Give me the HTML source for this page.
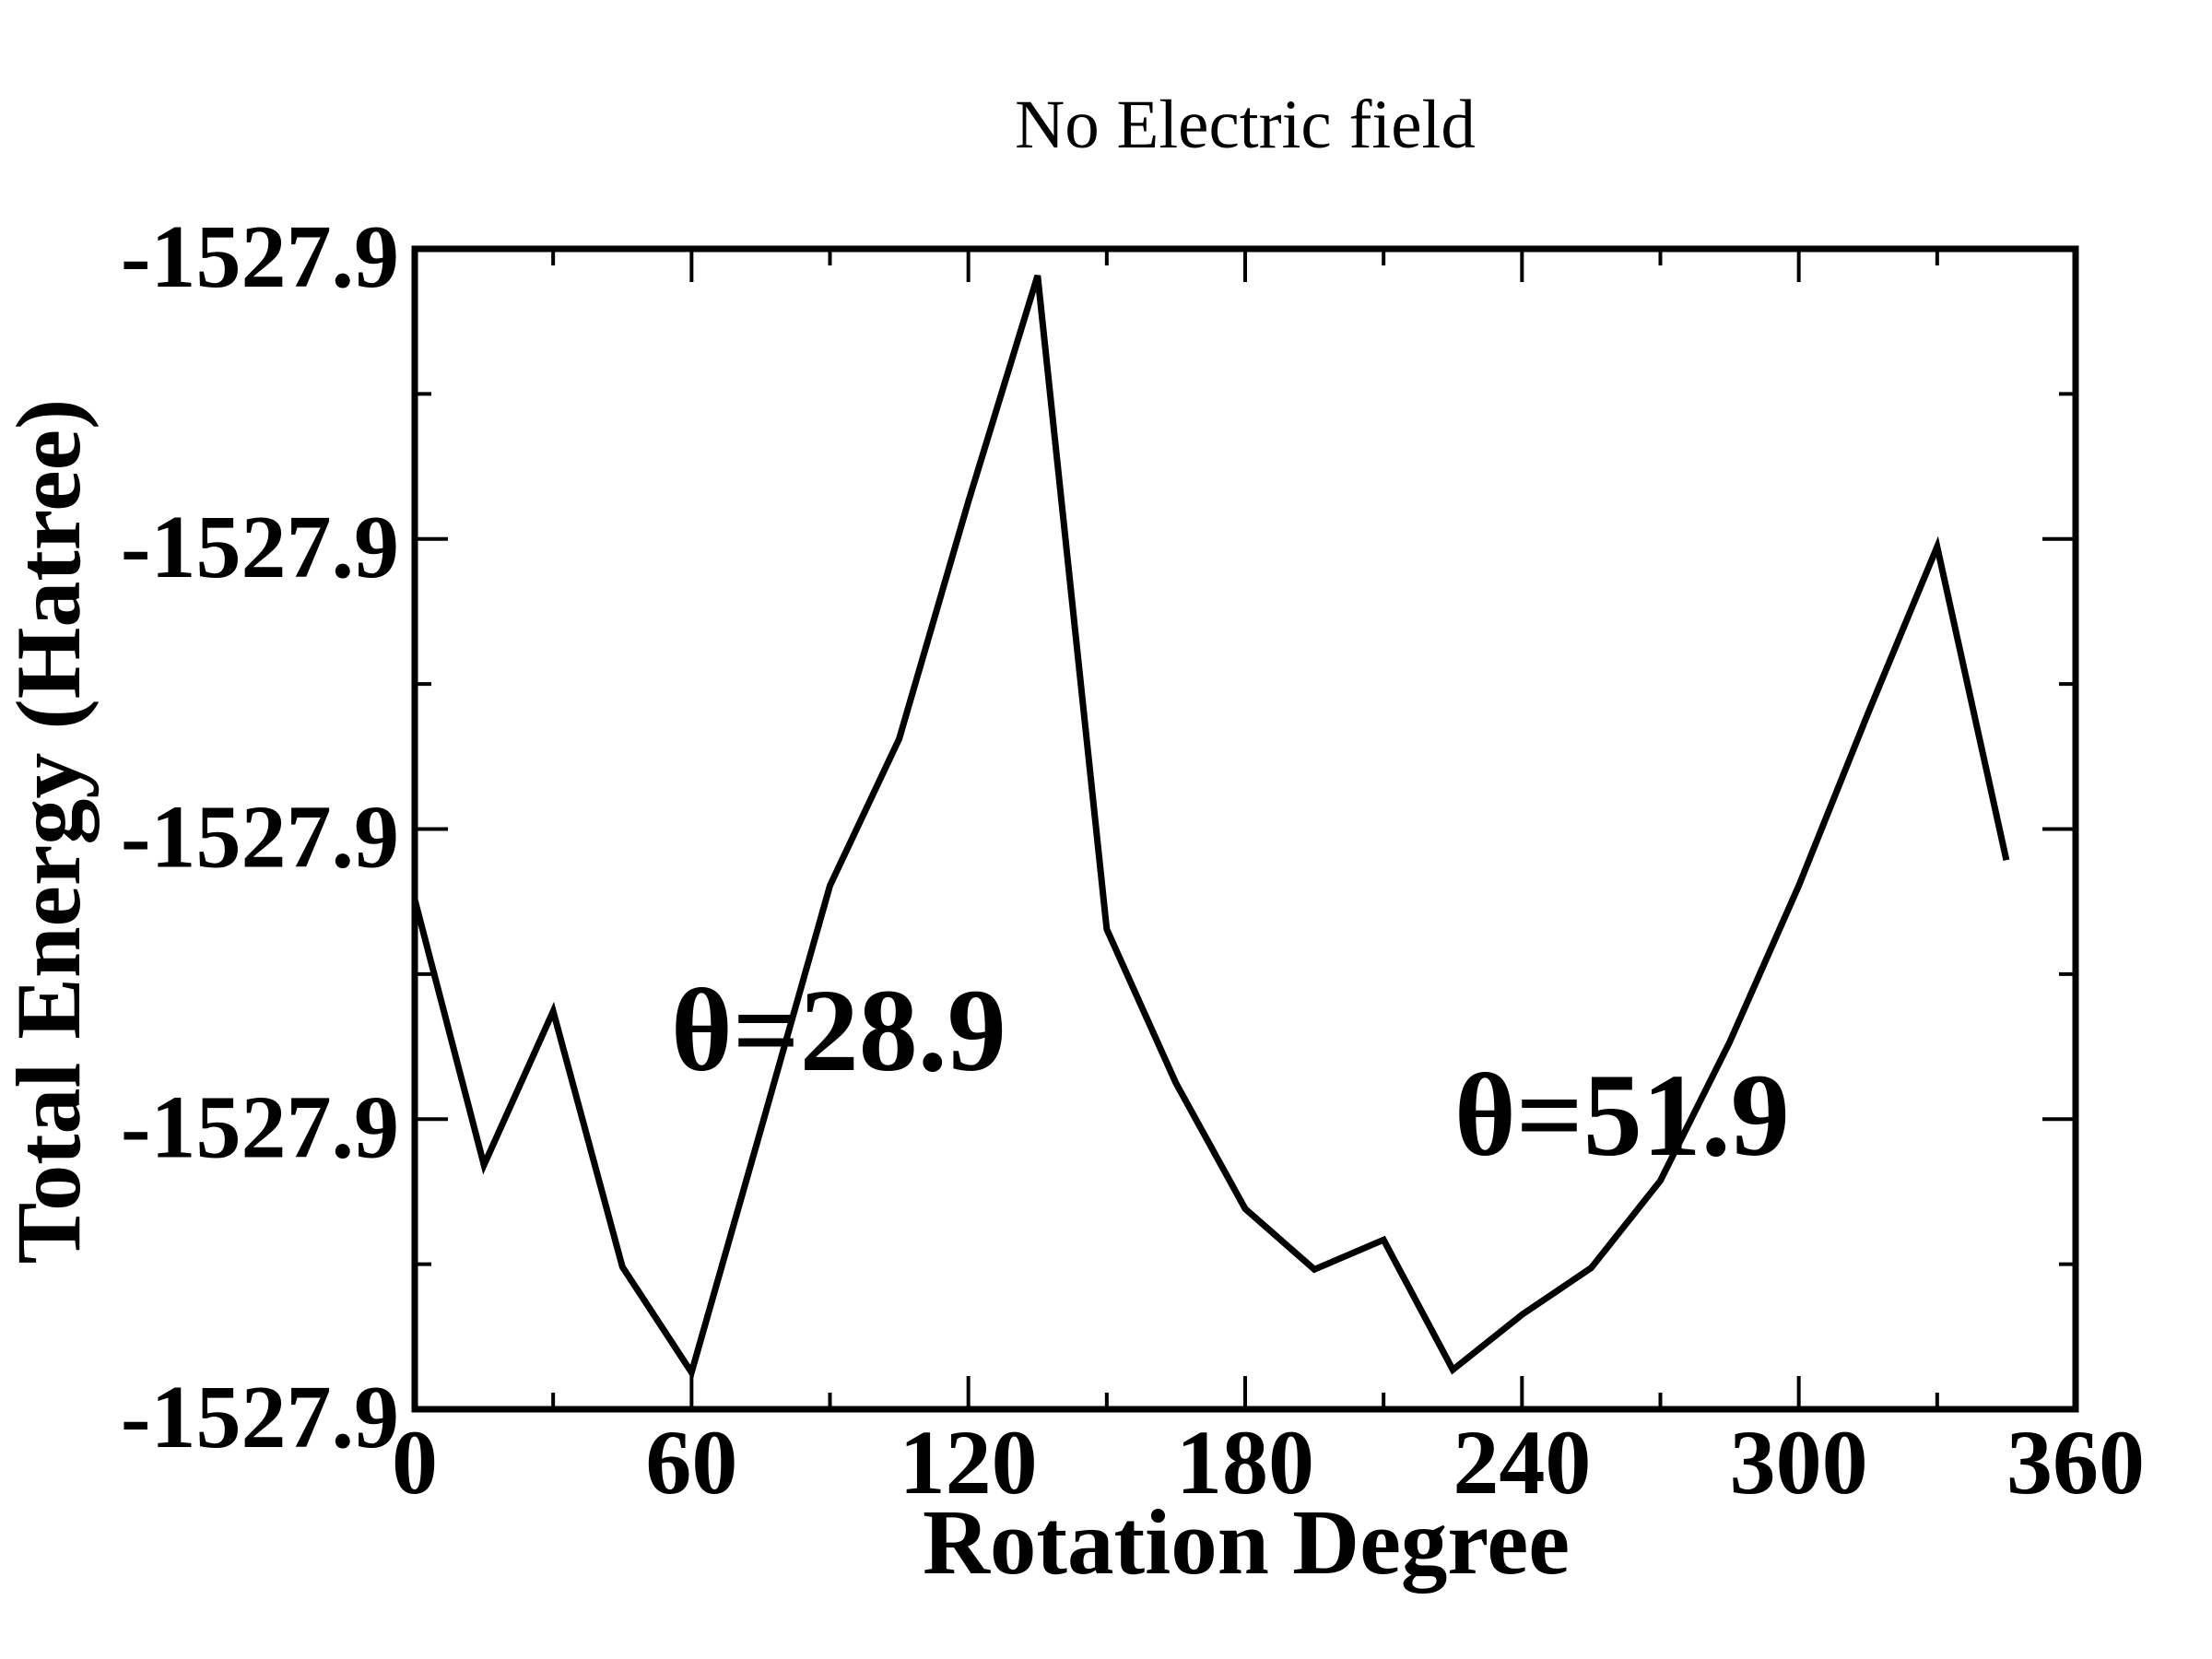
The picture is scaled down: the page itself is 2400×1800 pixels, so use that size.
<!DOCTYPE html>
<html><head><meta charset="utf-8"><style>
html,body{margin:0;padding:0;background:#fff;}
svg{display:block;font-family:"Liberation Serif",serif;}
</style></head><body>
<svg id="chart" width="2400" height="1800" viewBox="0 0 2400 1800" xmlns="http://www.w3.org/2000/svg">
<rect x="0" y="0" width="2400" height="1800" fill="#fff"/>
<text x="1351" y="160" font-size="75" text-anchor="middle">No Electric field</text>
<g id="axes"></g>
<g id="series"></g>
<text x="86" y="902" font-size="100" font-weight="bold" text-anchor="middle" transform="rotate(-90 86 902)">Total Energy (Hatree)</text>
<text x="1352" y="1707" font-size="101" font-weight="bold" text-anchor="middle">Rotation Degree</text>
<text x="728" y="1161" font-size="128" font-weight="bold">θ=28.9</text>
<text x="1578" y="1253" font-size="128" font-weight="bold">θ=51.9</text>
</svg>
<script>
const angles = [0,15,30,45,60,75,90,105,120,135,150,165,180,195,210,225,240,255,270,285,300,315,330,345];
const energies = [1.757,0.842,1.372,0.491,0.127,0.963,1.805,2.311,3.129,3.908,1.655,1.124,0.691,0.482,0.584,0.136,0.326,0.487,0.788,1.265,1.805,2.399,2.973,1.893];
const xTicks = [0,60,120,180,240,300,360];
const xTickLabels = ["0","60","120","180","240","300","360"];
const yTicks = [0,1,2,3,4];
const yTickLabels = ["-1527.9","-1527.9","-1527.9","-1527.9","-1527.9"];

const NS = "http://www.w3.org/2000/svg";
const L = 450, R = 2252, T = 270, B = 1529;
const xMin = 0, xMax = 360, yMin = 0, yMax = 4;
function xs(v){ return L + (v - xMin) / (xMax - xMin) * (R - L); }
function ys(v){ return B - (v - yMin) / (yMax - yMin) * (B - T); }
function mk(tag, attrs){ const e = document.createElementNS(NS, tag); for (const k in attrs) e.setAttribute(k, attrs[k]); return e; }

const axes = document.getElementById('axes');
const frame = mk('rect', {x:L, y:T, width:R-L, height:B-T, fill:'none', stroke:'#000', 'stroke-width':7});


axes.appendChild(frame);

for (let v = xMin; v <= xMax; v += 30) {
  const major = v % 60 === 0;
  const len = major ? 36 : 18;
  const x = xs(v);
  [[B, B-len],[T, T+len]].forEach(function(p){
    const t = mk('line', {x1:x, x2:x, y1:p[0], y2:p[1], stroke:'#000', 'stroke-width':4});
    
    
    axes.appendChild(t);
  });
}
xTicks.forEach(function(v, i){
  const t = mk('text', {x:xs(v), y:1620, 'font-size':100, 'font-weight':'bold', 'text-anchor':'middle'});
  t.textContent = xTickLabels[i];
  
  
  axes.appendChild(t);
});
for (let v = yMin; v <= yMax; v += 0.5) {
  const major = Number.isInteger(v);
  const len = major ? 36 : 18;
  const y = ys(v);
  [[L, L+len],[R, R-len]].forEach(function(p){
    const t = mk('line', {x1:p[0], x2:p[1], y1:y, y2:y, stroke:'#000', 'stroke-width':4});
    
    
    axes.appendChild(t);
  });
}
yTicks.forEach(function(v, i){
  const t = mk('text', {x:433, y:ys(v)+41, 'font-size':98, 'font-weight':'bold', 'text-anchor':'end'});
  t.textContent = yTickLabels[i];
  
  
  axes.appendChild(t);
});

const series = document.getElementById('series');
const pts = angles.map(function(a, i){ return xs(a).toFixed(1) + ',' + ys(energies[i]).toFixed(1); }).join(' ');
const line = mk('polyline', {points:pts, fill:'none', stroke:'#000', 'stroke-width':7, 'stroke-linejoin':'miter'});


series.appendChild(line);
</script>
</body></html>
